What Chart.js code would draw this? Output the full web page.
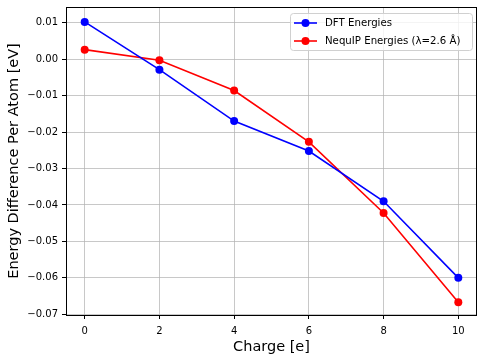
<!DOCTYPE html>
<html>
<head>
<meta charset="utf-8">
<script src="https://cdn.jsdelivr.net/npm/chart.js@4"></script>
<style>
  html, body { margin: 0; padding: 0; background: #fff; }
  #wrap { width: 485px; height: 362px; }
</style>
</head>
<body>
<div id="wrap"><canvas id="energyChart" width="485" height="362"></canvas></div>
<script>
// charge values (e) and energy difference per atom (eV)
const charges = [0, 2, 4, 6, 8, 10]
const dftEnergies = [0.0102, -0.0029, -0.0170, -0.0252, -0.0390, -0.0600]
const nequipEnergies = [0.0026, -0.0003, -0.0086, -0.0227, -0.0422, -0.0667]
const xTicks = [0, 2, 4, 6, 8, 10]
const yTicks = [0.01, 0.00, -0.01, -0.02, -0.03, -0.04, -0.05, -0.06, -0.07]

const fontFam = '"DejaVu Sans", sans-serif'

function toPoints(ys) {
    return charges.map((c, i) => ({ x: c, y: ys[i] }))
}

// box round the plot area + matplotlib style legend in upper right
const framePlugin = {
    id: 'frame',
    afterDraw(chart) {
        const { ctx, chartArea: a } = chart
        ctx.save()
        ctx.strokeStyle = '#000'
        ctx.lineWidth = 1
        ctx.strokeRect(Math.round(a.left) + 0.5, Math.round(a.top) + 0.5,
            Math.round(a.right - a.left) - 1, Math.round(a.bottom - a.top))

        // legend
        const bx = 290.5, by = 13.5, bw = 182, bh = 37, r = 3
        ctx.beginPath()
        ctx.roundRect(bx, by, bw, bh, r)
        ctx.fillStyle = 'rgba(255,255,255,0.8)'
        ctx.fill()
        ctx.strokeStyle = '#d0d0d0'
        ctx.lineWidth = 1
        ctx.stroke()

        ctx.font = '10.2px ' + fontFam
        ctx.textBaseline = 'middle'
        chart.data.datasets.forEach((ds, i) => {
            const y = 23 + i * 18
            ctx.strokeStyle = ds.borderColor
            ctx.lineWidth = 1.6
            ctx.beginPath()
            ctx.moveTo(294, y)
            ctx.lineTo(317, y)
            ctx.stroke()
            ctx.fillStyle = ds.borderColor
            ctx.beginPath()
            ctx.arc(305.5, y, 4, 0, Math.PI * 2)
            ctx.fill()
            ctx.fillStyle = '#000'
            ctx.fillText(ds.label, 325, y + 0.5)
        })
        ctx.restore()
    }
}

const ctx = document.getElementById('energyChart')

new Chart(ctx, {
    type: 'line',
    data: {
        datasets: [{
            label: 'DFT Energies',
            data: toPoints(dftEnergies),
            borderColor: '#0000ff',
            backgroundColor: '#0000ff',
            borderWidth: 1.6,
            pointRadius: 4,
            pointBorderWidth: 0,
            tension: 0
        }, {
            label: 'NequIP Energies (\u03bb=2.6 \u00c5)',
            data: toPoints(nequipEnergies),
            borderColor: '#ff0000',
            backgroundColor: '#ff0000',
            borderWidth: 1.6,
            pointRadius: 4,
            pointBorderWidth: 0,
            tension: 0
        }]
    },
    options: {
        responsive: false,
        animation: false,
        layout: { padding: { top: 7, right: 8, left: 0, bottom: 0 } },
        plugins: {
            legend: { display: false },
            tooltip: { enabled: false }
        },
        scales: {
            x: {
                type: 'linear',
                min: -0.5,
                max: 10.5,
                afterBuildTicks: s => { s.ticks = xTicks.map(v => ({ value: v })) },
                afterFit: s => { s.height = 47; s.paddingLeft = 0; s.paddingRight = 0 },
                grid: { color: 'rgba(176,176,176,0.7)', lineWidth: 1, tickLength: 4, tickColor: '#000', drawTicks: true },
                border: { display: false },
                ticks: {
                    color: '#000',
                    padding: 6,
                    maxRotation: 0,
                    font: { family: fontFam, size: 10 },
                    callback: v => String(v)
                },
                title: {
                    display: true,
                    text: 'Charge [e]',
                    color: '#000',
                    font: { family: fontFam, size: 14.5 },
                    padding: { top: 0, bottom: 6 }
                }
            },
            y: {
                type: 'linear',
                min: -0.0702,
                max: 0.0143,
                afterBuildTicks: s => { s.ticks = yTicks.map(v => ({ value: v })) },
                afterFit: s => { s.width = 66; s.paddingTop = 0; s.paddingBottom = 0 },
                grid: { color: 'rgba(176,176,176,0.7)', lineWidth: 1, tickLength: 4, tickColor: '#000', drawTicks: true },
                border: { display: false },
                ticks: {
                    color: '#000',
                    padding: 4,
                    font: { family: fontFam, size: 10 },
                    callback: v => v.toFixed(2).replace('-', '\u2212').replace(/^\u22120\.00$/, '0.00')
                },
                title: {
                    display: true,
                    text: 'Energy Difference Per Atom [eV]',
                    color: '#000',
                    font: { family: fontFam, size: 14.5 },
                    padding: { top: 6, bottom: 0 }
                }
            }
        }
    },
    plugins: [framePlugin]
})
</script>
</body>
</html>
